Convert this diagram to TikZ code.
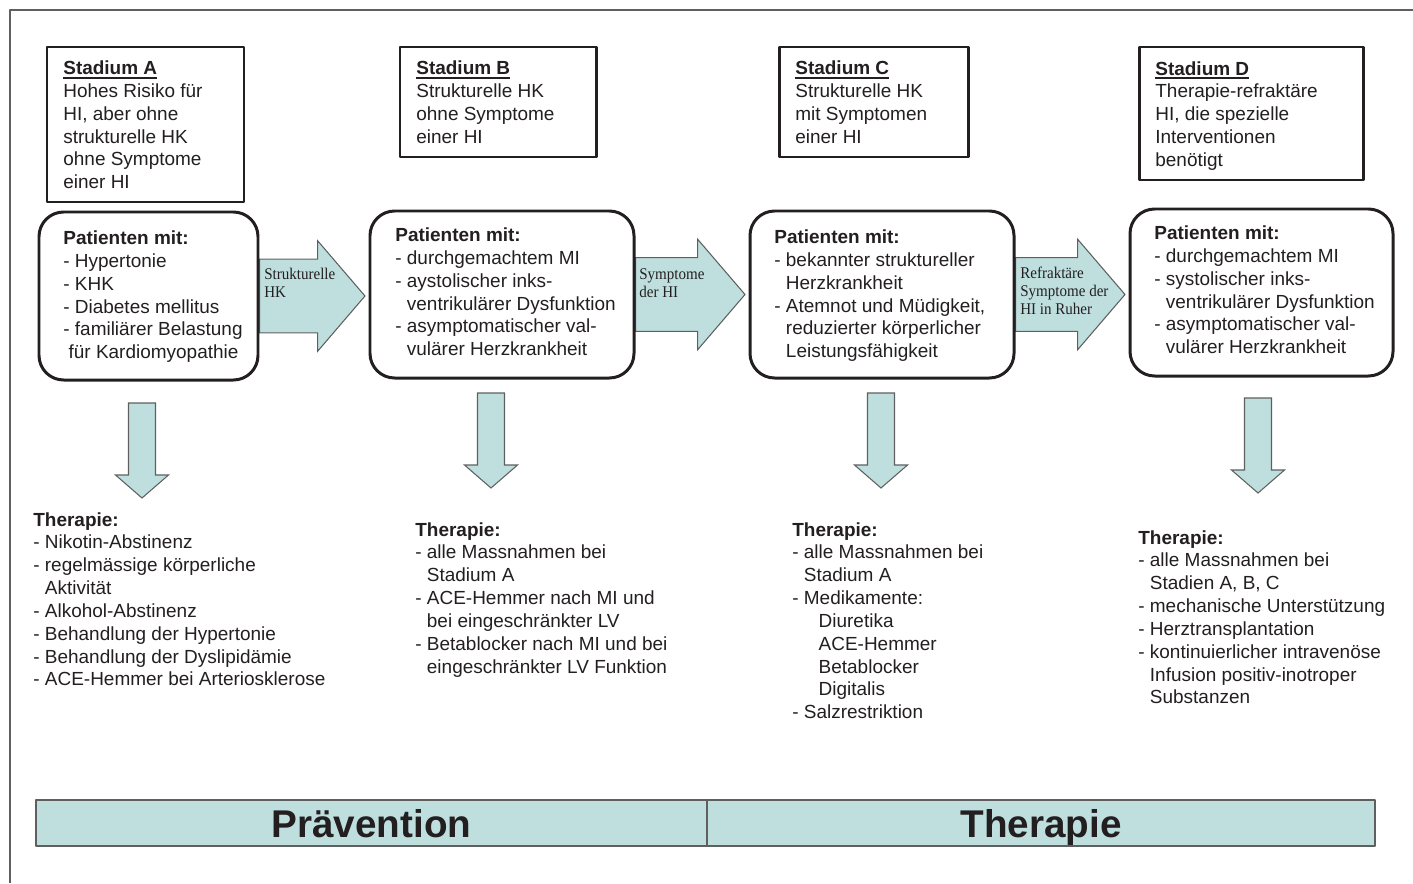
\documentclass[tikz,border=0pt]{standalone}
\usepackage{fontspec}
\setmainfont{Liberation Sans}
\newfontfamily\arrowfont[FakeStretch=0.92]{Liberation Serif}
\usetikzlibrary{fit,calc,backgrounds}

\definecolor{stagefill}{RGB}{191,223,223}
\definecolor{inkblack}{RGB}{35,31,32}
\definecolor{edgegray}{RGB}{95,95,95}

\newcommand{\cont}{\hphantom{- }}
\newcommand{\stagehead}[1]{\setbox0\hbox{\textbf{#1}}\rlap{\rule[-2.3pt]{\wd0}{1.1pt}}\box0}
% block arrow from one patient box to the next
\newcommand{\stagearrow}[2]{%
  \path[blockarrow] let \p1=(#1.east), \p2=(#2.west) in
    (\x1,\y1+21pt) -- (\x2-29pt,\y1+21pt) -- (\x2-29pt,\y1+31.5pt)
    -- (\x2-2pt,\y1) -- (\x2-29pt,\y1-31.5pt) -- (\x2-29pt,\y1-21pt)
    -- (\x1,\y1-21pt) -- cycle;}

\tikzset{
  blockarrow/.style={draw=edgegray, fill=stagefill, line width=0.6pt, line join=miter},
  stadbox/.style={draw=inkblack, line width=1.7pt, inner sep=0pt},
  patbox/.style={draw=inkblack, line width=1.7pt, rounded corners=14pt, inner sep=0pt},
  bodytext/.style={anchor=north west, align=left, inner sep=0pt, text=inkblack,
    font=\fontsize{10.8}{13}\selectfont},
  arrowtext/.style={anchor=north west, align=left, inner sep=0pt, text=inkblack,
    font=\arrowfont\fontsize{9.3}{10.2}\selectfont},
  phasebar/.style={draw=edgegray, fill=stagefill, line width=0.9pt, inner sep=0pt},
  phasetext/.style={anchor=base, inner sep=0pt, text=inkblack,
    font=\bfseries\fontsize{22}{24}\selectfont}
}

\begin{document}
\begin{tikzpicture}[x=0.02cm, y=-0.02cm, line join=round]
  \useasboundingbox (0,0) rectangle (1413,883);
  \draw[edgegray, line width=0.8pt] (10,883) -- (10,10) -- (1413,10);

  % stages
  \node[stadbox, fit={(47,47) (244,202)}] (sa) {};
  \node[stadbox, fit={(400,47) (596,157)}] (sb) {};
  \node[stadbox, fit={(779,47) (968,157)}] (sc) {};
  \node[stadbox, fit={(1139,47) (1363,180)}] (sd) {};
  \node[bodytext] (sa-t) at (63,60.5) {\stagehead{Stadium A}\\Hohes Risiko für\\HI, aber ohne\\strukturelle HK\\ohne Symptome\\einer HI};
  \node[bodytext] (sb-t) at (416,60.5) {\stagehead{Stadium B}\\Strukturelle HK\\ohne Symptome\\einer HI};
  \node[bodytext] (sc-t) at (795,60.5) {\stagehead{Stadium C}\\Strukturelle HK\\mit Symptomen\\einer HI};
  \node[bodytext] (sd-t) at (1155,61) {\stagehead{Stadium D}\\Therapie-refraktäre\\HI, die spezielle\\Interventionen\\benötigt};

  % patient groups
  \node[patbox, fit={(39,212) (258,380)}] (pa) {};
  \node[patbox, fit={(370,211) (634,378)}] (pb) {};
  \node[patbox, fit={(750,211) (1014,378)}] (pc) {};
  \node[patbox, fit={(1130,209) (1393,376)}] (pd) {};
  \begin{scope}[on background layer]
    \stagearrow{pa}{pb}
    \stagearrow{pb}{pc}
    \stagearrow{pc}{pd}
  \end{scope}

  \node[arrowtext] (ab-t) at (264,268) {Strukturelle\\HK};
  \node[arrowtext] (bc-t) at (639,268) {Symptome\\der HI};
  \node[arrowtext] (cd-t) at (1020,267) {Refraktäre\\Symptome der\\HI in Ruher};

  \node[bodytext] (pa-t) at (63,230.5) {\textbf{Patienten mit:}\\- Hypertonie\\- KHK\\- Diabetes mellitus\\- familiärer Belastung\\\hspace*{3pt}für Kardiomyopathie};
  \node[bodytext] (pb-t) at (395,227.5) {\textbf{Patienten mit:}\\- durchgemachtem MI\\- aystolischer inks-\\\cont ventrikulärer Dysfunktion\\- asymptomatischer val-\\\cont vulärer Herzkrankheit};
  \node[bodytext] (pc-t) at (774,229.5) {\textbf{Patienten mit:}\\- bekannter struktureller\\\cont Herzkrankheit\\- Atemnot und Müdigkeit,\\\cont reduzierter körperlicher\\\cont Leistungsfähigkeit};
  \node[bodytext] (pd-t) at (1154,225.5) {\textbf{Patienten mit:}\\- durchgemachtem MI\\- systolischer inks-\\\cont ventrikulärer Dysfunktion\\- asymptomatischer val-\\\cont vulärer Herzkrankheit};

  % arrows down to the therapy lists
  \coordinate (da) at (142,403);
  \coordinate (db) at (491,393);
  \coordinate (dc) at (881,393);
  \coordinate (dd) at (1258,398);
  \draw[blockarrow] (da) ++(-13.5,0) -- ++(27,0) -- ++(0,72) -- ++(13,0) -- ++(-26.5,23) -- ++(-26.5,-23) -- ++(13,0) -- cycle;
  \draw[blockarrow] (db) ++(-13.5,0) -- ++(27,0) -- ++(0,72) -- ++(13,0) -- ++(-26.5,23) -- ++(-26.5,-23) -- ++(13,0) -- cycle;
  \draw[blockarrow] (dc) ++(-13.5,0) -- ++(27,0) -- ++(0,72) -- ++(13,0) -- ++(-26.5,23) -- ++(-26.5,-23) -- ++(13,0) -- cycle;
  \draw[blockarrow] (dd) ++(-13.5,0) -- ++(27,0) -- ++(0,72) -- ++(13,0) -- ++(-26.5,23) -- ++(-26.5,-23) -- ++(13,0) -- cycle;

  \node[bodytext] (ta) at (33,512) {\textbf{Therapie:}\\- Nikotin-Abstinenz\\- regelmässige körperliche\\\cont Aktivität\\- Alkohol-Abstinenz\\- Behandlung der Hypertonie\\- Behandlung der Dyslipidämie\\- ACE-Hemmer bei Arteriosklerose};
  \node[bodytext] (tb) at (415,522) {\textbf{Therapie:}\\- alle Massnahmen bei\\\cont Stadium A\\- ACE-Hemmer nach MI und\\\cont bei eingeschränkter LV\\- Betablocker nach MI und bei\\\cont eingeschränkter LV Funktion};
  \node[bodytext] (tc) at (792,522) {\textbf{Therapie:}\\- alle Massnahmen bei\\\cont Stadium A\\- Medikamente:\\\hspace*{15pt}Diuretika\\\hspace*{15pt}ACE-Hemmer\\\hspace*{15pt}Betablocker\\\hspace*{15pt}Digitalis\\- Salzrestriktion};
  \node[bodytext] (td) at (1138,530) {\textbf{Therapie:}\\- alle Massnahmen bei\\\cont Stadien A, B, C\\- mechanische Unterstützung\\- Herztransplantation\\- kontinuierlicher intravenöse\\\cont Infusion positiv-inotroper\\\cont Substanzen};

  % phases
  \node[phasebar, fit={(36,800) (707,846)}] (prev) {};
  \node[phasebar, fit={(707,800) (1375,846)}] (ther) {};
  \node[phasetext] (prev-t) at ($(prev.south)+(0,-9)$) {Prävention};
  \node[phasetext] (ther-t) at ($(ther.south)+(0,-9)$) {Therapie};
\end{tikzpicture}
\end{document}
